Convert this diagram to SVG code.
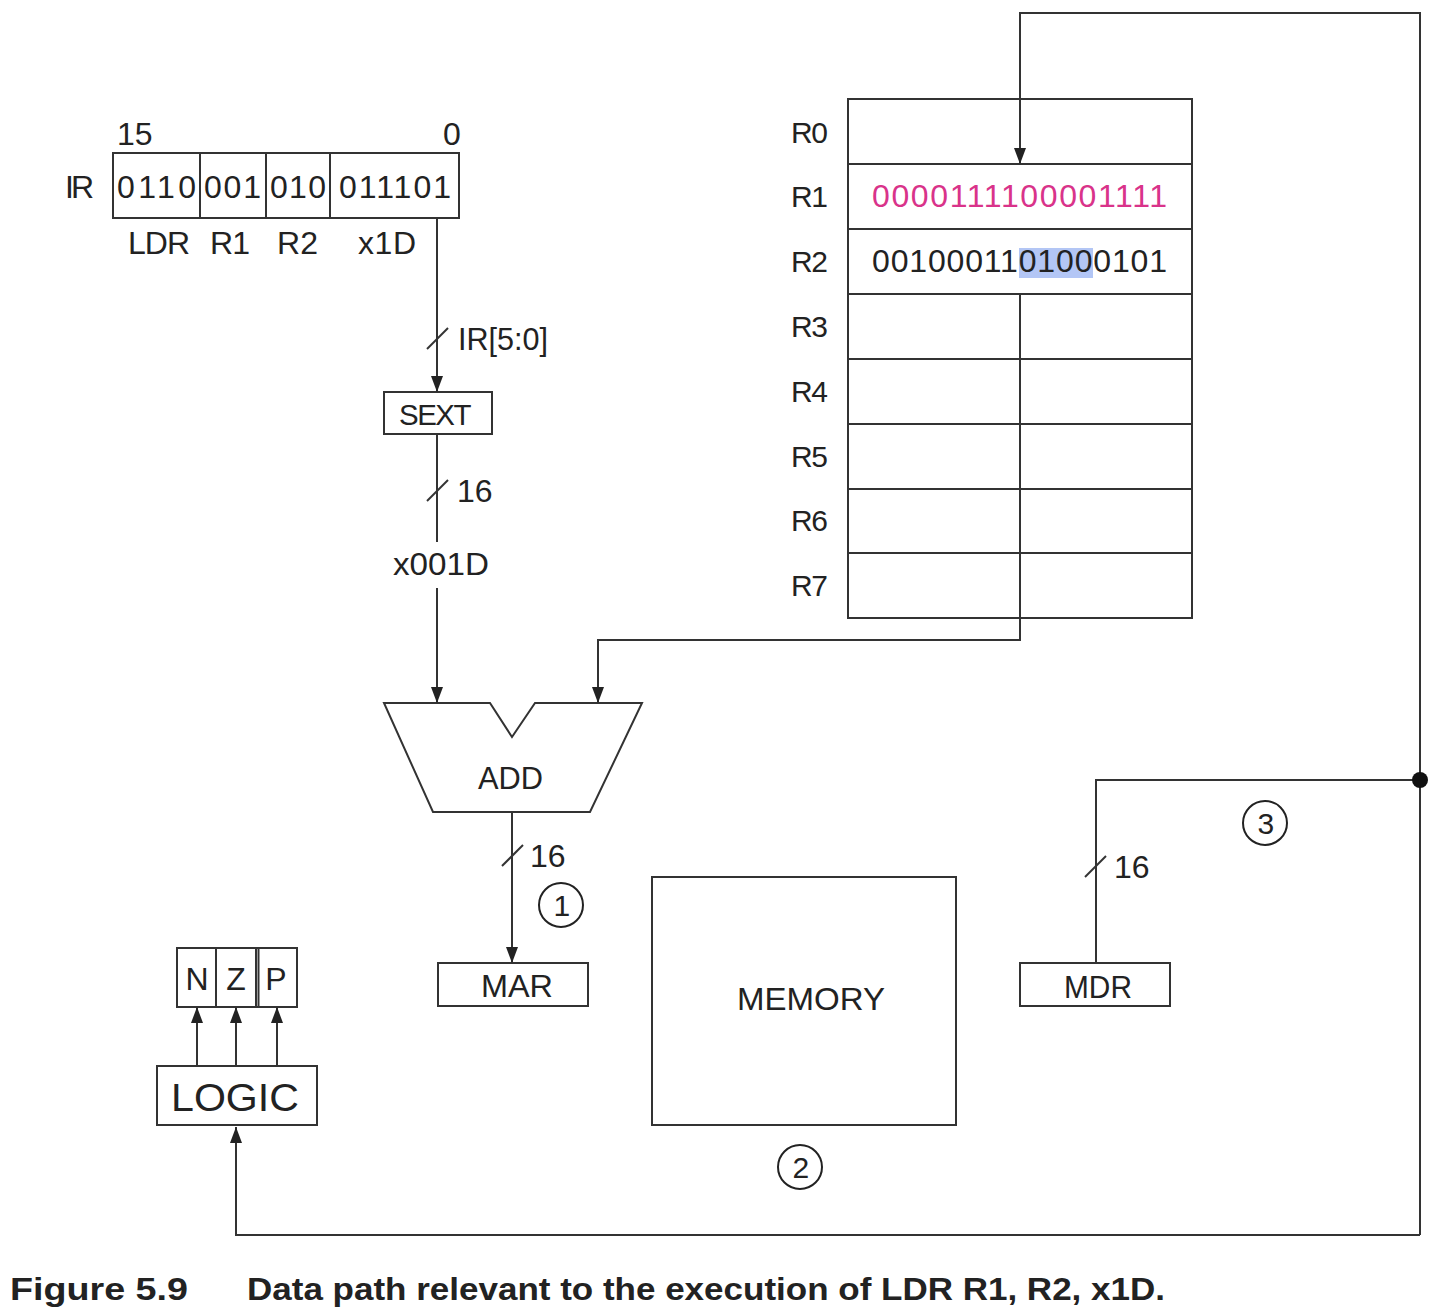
<svg xmlns="http://www.w3.org/2000/svg" width="1436" height="1314" viewBox="0 0 1436 1314">
<style>
text{font-family:"Liberation Sans",Arial,sans-serif;fill:#222}
.box{fill:#fff;stroke:#333;stroke-width:2}
.ln{fill:none;stroke:#333;stroke-width:2}
.t32{font-size:32px}
.t30{font-size:30px;letter-spacing:-1.5px}
.mid{text-anchor:middle}
.cap{font-weight:bold;font-size:32px}
.circ{fill:none;stroke:#222;stroke-width:2}
</style>
<defs>
<marker id="ar" markerUnits="userSpaceOnUse" markerWidth="16" markerHeight="12" refX="16" refY="6" orient="auto">
<path d="M0,0 L16,6 L0,12 z" fill="#222"/>
</marker>
</defs>

<g id="ir">
<rect class="box" x="113" y="153" width="346" height="65"/>
<line class="ln" x1="200" y1="153" x2="200" y2="218"/>
<line class="ln" x1="266" y1="153" x2="266" y2="218"/>
<line class="ln" x1="330" y1="153" x2="330" y2="218"/>
<text class="t32" x="65" y="198" textLength="29">IR</text>
<text class="t32" x="117" y="145">15</text>
<text class="t32" x="443" y="145">0</text>
<text class="t32" x="117" y="198" textLength="79">0110</text>
<text class="t32" x="204" y="198" textLength="57">001</text>
<text class="t32" x="270" y="198" textLength="56">010</text>
<text class="t32" x="339" y="198" textLength="112">011101</text>
<text class="t32" x="128" y="254" textLength="62">LDR</text>
<text class="t32" x="210" y="254" textLength="40">R1</text>
<text class="t32" x="277" y="254" textLength="41">R2</text>
<text class="t32" x="358" y="254" textLength="58">x1D</text>
</g>

<g id="regfile">
<rect class="box" x="848" y="99" width="344" height="519"/>
<line class="ln" x1="848" y1="164" x2="1192" y2="164"/>
<line class="ln" x1="848" y1="229" x2="1192" y2="229"/>
<line class="ln" x1="848" y1="294" x2="1192" y2="294"/>
<line class="ln" x1="848" y1="359" x2="1192" y2="359"/>
<line class="ln" x1="848" y1="424" x2="1192" y2="424"/>
<line class="ln" x1="848" y1="489" x2="1192" y2="489"/>
<line class="ln" x1="848" y1="553" x2="1192" y2="553"/>
<text class="t30" x="791" y="143">R0</text>
<text class="t30" x="791" y="207">R1</text>
<text class="t30" x="791" y="272">R2</text>
<text class="t30" x="791" y="337">R3</text>
<text class="t30" x="791" y="402">R4</text>
<text class="t30" x="791" y="467">R5</text>
<text class="t30" x="791" y="531">R6</text>
<text class="t30" x="791" y="596">R7</text>
<text class="t32" x="872" y="207" textLength="295" style="fill:#d9338a">0000111100001111</text>
<rect x="1019" y="248" width="74" height="30" fill="#b3c6f5"/>
<text class="t32" x="872" y="272" textLength="295">0010001101000101</text>
</g>

<g id="sext">
<rect class="box" x="384" y="392" width="108" height="42"/>
<text class="t30" x="399" y="425" textLength="71" lengthAdjust="spacingAndGlyphs">SEXT</text>
</g>

<g id="add">
<path class="box" d="M384,703 H490 L512,737 L535,703 H642 L590,812 H433 Z"/>
<text class="t32" x="478" y="789" textLength="65" lengthAdjust="spacingAndGlyphs">ADD</text>
</g>

<g id="mar">
<rect class="box" x="438" y="963" width="150" height="43"/>
<text class="t32" x="481" y="997" textLength="72" lengthAdjust="spacingAndGlyphs">MAR</text>
</g>

<g id="memory">
<rect class="box" x="652" y="877" width="304" height="248"/>
<text class="t32" x="737" y="1010" textLength="148" lengthAdjust="spacingAndGlyphs">MEMORY</text>
</g>

<g id="mdr">
<rect class="box" x="1020" y="963" width="150" height="43"/>
<text class="t32" x="1064" y="998" textLength="68" lengthAdjust="spacingAndGlyphs">MDR</text>
</g>

<g id="nzp">
<rect class="box" x="177" y="948" width="120" height="59"/>
<line class="ln" x1="216" y1="948" x2="216" y2="1007"/>
<line class="ln" x1="256" y1="948" x2="256" y2="1007"/>
<line class="ln" x1="258.5" y1="948" x2="258.5" y2="1007"/>
<text class="t32 mid" x="197" y="990">N</text>
<text class="t32 mid" x="236" y="990">Z</text>
<text class="t32 mid" x="276" y="990">P</text>
</g>

<g id="logic">
<rect class="box" x="157" y="1066" width="160" height="59"/>
<text x="171" y="1111" style="font-size:38px" textLength="128" lengthAdjust="spacingAndGlyphs">LOGIC</text>
</g>

<g id="connectors">
<path class="ln" d="M437,218 V392" marker-end="url(#ar)"/>
<path class="ln" d="M427,349 L448,328"/>
<text class="t32" x="458" y="350" textLength="90" lengthAdjust="spacingAndGlyphs">IR[5:0]</text>
<path class="ln" d="M437,434 V542"/>
<path class="ln" d="M427,501 L448,480"/>
<text class="t32" x="457" y="502">16</text>
<text class="t32" x="393" y="575" textLength="96" lengthAdjust="spacingAndGlyphs">x001D</text>
<path class="ln" d="M437,588 V703" marker-end="url(#ar)"/>
<path class="ln" d="M1020,294 V640 H598 V703" marker-end="url(#ar)"/>
<path class="ln" d="M512,812 V963" marker-end="url(#ar)"/>
<path class="ln" d="M502,866 L523,845"/>
<text class="t32" x="530" y="867">16</text>
<circle class="circ" cx="561" cy="905" r="22"/>
<text class="t30 mid" x="561" y="916">1</text>
<path class="ln" d="M1420,1235 V13 H1020 V164" marker-end="url(#ar)"/>
<path class="ln" d="M1420,1235 H236 V1127" marker-end="url(#ar)"/>
<path class="ln" d="M1096,963 V780 H1420"/>
<circle cx="1420" cy="780" r="8" fill="#111"/>
<path class="ln" d="M1085,877 L1106,856"/>
<text class="t32" x="1114" y="878">16</text>
<circle class="circ" cx="1265" cy="823" r="22"/>
<text class="t30 mid" x="1265" y="834">3</text>
<circle class="circ" cx="800" cy="1167" r="22"/>
<text class="t30 mid" x="800" y="1178">2</text>
<path class="ln" d="M197,1066 V1007" marker-end="url(#ar)"/>
<path class="ln" d="M236,1066 V1007" marker-end="url(#ar)"/>
<path class="ln" d="M277,1066 V1007" marker-end="url(#ar)"/>
</g>

<g id="caption">
<text class="cap" x="10" y="1300" textLength="178" lengthAdjust="spacingAndGlyphs">Figure 5.9</text>
<text class="cap" x="247" y="1300" textLength="918" lengthAdjust="spacingAndGlyphs">Data path relevant to the execution of LDR R1, R2, x1D.</text>
</g>
</svg>
